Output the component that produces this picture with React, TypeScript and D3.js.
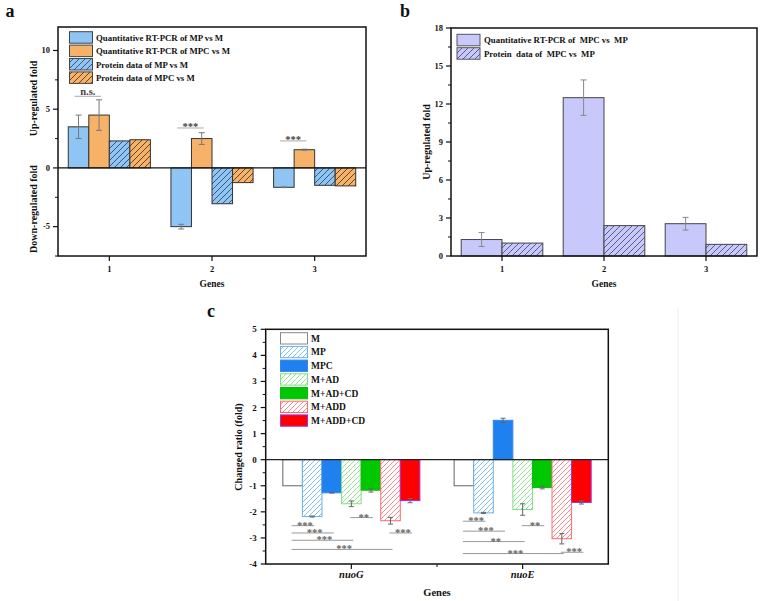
import React, { useEffect, useRef } from "react";
import * as d3 from "d3";

// panel a
const genesA = ["1", "2", "3"];
const qpcrMP = [3.5, -5.0, -1.65];
const qpcrMPErr = [1.0, 0.2, 0.03];
const qpcrMPC = [4.5, 2.5, 1.55];
const qpcrMPCErr = [1.3, 0.5, 0.05];
const protMP = [2.3, -3.05, -1.48];
const protMPC = [2.4, -1.25, -1.53];
const sigA = [
  { gene: 0, y: 6.1, label: "n.s." },
  { gene: 1, y: 3.4, label: "***" },
  { gene: 2, y: 2.3, label: "***" },
];
const legendA = [
  "Quantitative RT-PCR of MP vs M",
  "Quantitative RT-PCR of MPC vs M",
  "Protein data of MP vs M",
  "Protein data of MPC vs M",
];

// panel b
const genesB = ["1", "2", "3"];
const qpcrMPCvsMP = [1.3, 12.5, 2.55];
const qpcrMPCvsMPErr = [0.55, 1.4, 0.5];
const protMPCvsMP = [1.02, 2.4, 0.92];
const legendB = ["Quantitative RT-PCR of  MPC vs  MP", "Protein  data of  MPC vs  MP"];

// panel c
const genesC = ["nuoG", "nuoE"];
const groupsC = ["M", "MP", "MPC", "M+AD", "M+AD+CD", "M+ADD", "M+ADD+CD"];
const valuesC = [
  [-1.0, -2.18, -1.27, -1.69, -1.17, -2.34, -1.57],
  [-1.0, -2.04, 1.51, -1.91, -1.07, -3.03, -1.64],
];
const errorsC = [
  [0, 0.02, 0.01, 0.11, 0.07, 0.13, 0.08],
  [0, 0.02, 0.08, 0.22, 0.05, 0.2, 0.06],
];
const sigC = [
  { gene: 0, from: 0, to: 1, y: -2.53, label: "***" },
  { gene: 0, from: 0, to: 2, y: -2.81, label: "***" },
  { gene: 0, from: 0, to: 3, y: -3.09, label: "***" },
  { gene: 0, from: 0, to: 5, y: -3.44, label: "***" },
  { gene: 0, from: 3, to: 4, y: -2.22, label: "**" },
  { gene: 0, from: 5, to: 6, y: -2.81, label: "***" },
  { gene: 1, from: 0, to: 1, y: -2.36, label: "***" },
  { gene: 1, from: 0, to: 2, y: -2.74, label: "***" },
  { gene: 1, from: 0, to: 3, y: -3.14, label: "**" },
  { gene: 1, from: 0, to: 5, y: -3.6, label: "***" },
  { gene: 1, from: 3, to: 4, y: -2.53, label: "**" },
  { gene: 1, from: 5, to: 6, y: -3.55, label: "***" },
];

const FONT = "Liberation Serif, DejaVu Serif, serif";

const App = () => {
  const svgRef = useRef<SVGSVGElement>(null);

  useEffect(() => {
    const svg = d3.select(svgRef.current);
    svg.selectAll("*").remove();
    const defs = svg.append("defs");

    const hatch = (id, bg, line, size = 6, w = 0.8) => {
      const p = defs
        .append("pattern")
        .attr("id", id)
        .attr("patternUnits", "userSpaceOnUse")
        .attr("width", size)
        .attr("height", size);
      p.append("rect").attr("width", size).attr("height", size).attr("fill", bg);
      p.append("path")
        .attr("d", `M-1,1 l2,-2 M0,${size} l${size},-${size} M${size - 1},${size + 1} l2,-2`)
        .attr("stroke", line)
        .attr("stroke-width", w);
    };
    hatch("hBlue", "#8ec5f5", "#2a3a55");
    hatch("hOrange", "#f7b26a", "#3a2a15");
    hatch("hLav", "#c8c8fb", "#3c3c7a");
    hatch("hCBlue", "#ffffff", "#74b8f0", 5, 0.9);
    hatch("hCGreen", "#ffffff", "#86e486", 5, 0.9);
    hatch("hCRed", "#ffffff", "#ff7b7b", 5, 0.9);

    const txt = (g, x, y, s, size, opts: any = {}) =>
      g
        .append("text")
        .attr("x", x)
        .attr("y", y)
        .style("font-family", FONT)
        .style("font-weight", opts.weight || "bold")
        .style("font-style", opts.style || "normal")
        .style("font-size", size + "px")
        .attr("fill", opts.fill || "#111")
        .attr("text-anchor", opts.anchor || "middle")
        .attr("transform", opts.rotate ? `rotate(-90,${x},${y})` : null)
        .style("white-space", "pre")
        .text(s);

    const yAxis = (g, y, x0, ticks, minor, size, gap = 8) => {
      minor.forEach((v) =>
        g.append("line").attr("x1", x0 - 3).attr("x2", x0).attr("y1", y(v)).attr("y2", y(v)).attr("stroke", "#111")
      );
      ticks.forEach((v) => {
        g.append("line").attr("x1", x0 - 5).attr("x2", x0).attr("y1", y(v)).attr("y2", y(v)).attr("stroke", "#111").attr("stroke-width", 1.2);
        txt(g, x0 - gap, y(v) + size * 0.33, String(v), size, { anchor: "end" });
      });
    };

    // ---------- panel a ----------
    {
      const g = svg.append("g");
      const x = d3.scaleLinear().domain([0.5, 3.5]).range([58, 366]);
      const y = d3.scaleLinear().domain([-7.5, 12]).range([256, 27]);
      const bw = (x(2) - x(1)) * 0.8 / 4;
      const series = [
        { v: qpcrMP, e: qpcrMPErr, fill: "#8ec5f5" },
        { v: qpcrMPC, e: qpcrMPCErr, fill: "#f7b26a" },
        { v: protMP, e: null, fill: "url(#hBlue)" },
        { v: protMPC, e: null, fill: "url(#hOrange)" },
      ];
      series.forEach((s, si) => {
        s.v.forEach((v, i) => {
          const bx = x(i + 1) - 2 * bw + si * bw;
          g.append("rect")
            .attr("x", bx)
            .attr("y", y(Math.max(0, v)))
            .attr("width", bw)
            .attr("height", Math.abs(y(v) - y(0)))
            .attr("fill", s.fill)
            .attr("stroke", "#333")
            .attr("stroke-width", 1);
          if (s.e && s.e[i] > 0) {
            const cx = bx + bw / 2;
            const e = s.e[i];
            g.append("line").attr("x1", cx).attr("x2", cx).attr("y1", y(v + e)).attr("y2", y(v - e)).attr("stroke", "#777");
            [v + e, v - e].forEach((t) =>
              g.append("line").attr("x1", cx - 3).attr("x2", cx + 3).attr("y1", y(t)).attr("y2", y(t)).attr("stroke", "#777")
            );
          }
        });
      });
      sigA.forEach((s) => {
        const c1 = x(s.gene + 1) - 1.5 * bw - 4;
        const c2 = x(s.gene + 1) - 0.5 * bw + 2;
        g.append("line").attr("x1", c1).attr("x2", c2).attr("y1", y(s.y)).attr("y2", y(s.y)).attr("stroke", "#aaa").attr("stroke-width", 1);
        txt(g, (c1 + c2) / 2, y(s.y) + (s.label === "n.s." ? -1.5 : 2.5), s.label, 10.5, { fill: "#444" });
      });
      g.append("line").attr("x1", 58).attr("x2", 366).attr("y1", y(0)).attr("y2", y(0)).attr("stroke", "#111").attr("stroke-width", 1.3);
      g.append("rect").attr("x", 58).attr("y", 27).attr("width", 308).attr("height", 229).attr("fill", "none").attr("stroke", "#111").attr("stroke-width", 1.5);
      yAxis(g, y, 58, [-5, 0, 5, 10], [-7.5, -2.5, 2.5, 7.5], 8.5);
      genesA.forEach((gname, i) => {
        g.append("line").attr("x1", x(i + 1)).attr("x2", x(i + 1)).attr("y1", 256).attr("y2", 261).attr("stroke", "#111").attr("stroke-width", 1.2);
        txt(g, x(i + 1), 272, gname, 8.5);
      });
      const fills = ["#8ec5f5", "#f7b26a", "url(#hBlue)", "url(#hOrange)"];
      legendA.forEach((l, i) => {
        const ty = 31.7 + i * 13.4;
        g.append("rect").attr("x", 69.5).attr("y", ty).attr("width", 23).attr("height", 11.5).attr("fill", fills[i]).attr("stroke", "#444");
        txt(g, 96, ty + 9, l, 8.8, { anchor: "start" });
      });
      txt(g, 37, 98.5, "Up-regulated fold", 10, { rotate: true });
      txt(g, 37, 209, "Down-regulated fold", 10, { rotate: true });
      txt(g, 212, 287, "Genes", 9.5);
      txt(g, 10, 17, "a", 18, { anchor: "middle" });
    }

    // ---------- panel b ----------
    {
      const g = svg.append("g");
      const x = d3.scaleLinear().domain([0.5, 3.5]).range([451, 757]);
      const y = d3.scaleLinear().domain([0, 18]).range([256, 28]);
      const bw = (x(2) - x(1)) * 0.8 / 2;
      const series = [
        { v: qpcrMPCvsMP, e: qpcrMPCvsMPErr, fill: "#c8c8fb" },
        { v: protMPCvsMP, e: null, fill: "url(#hLav)" },
      ];
      series.forEach((s, si) => {
        s.v.forEach((v, i) => {
          const bx = x(i + 1) - bw + si * bw;
          g.append("rect")
            .attr("x", bx)
            .attr("y", y(v))
            .attr("width", bw)
            .attr("height", y(0) - y(v))
            .attr("fill", s.fill)
            .attr("stroke", "#444")
            .attr("stroke-width", 1);
          if (s.e) {
            const cx = bx + bw / 2;
            const e = s.e[i];
            g.append("line").attr("x1", cx).attr("x2", cx).attr("y1", y(v + e)).attr("y2", y(v - e)).attr("stroke", "#888");
            [v + e, v - e].forEach((t) =>
              g.append("line").attr("x1", cx - 3).attr("x2", cx + 3).attr("y1", y(t)).attr("y2", y(t)).attr("stroke", "#888")
            );
          }
        });
      });
      g.append("rect").attr("x", 451).attr("y", 28).attr("width", 306).attr("height", 228).attr("fill", "none").attr("stroke", "#111").attr("stroke-width", 1.5);
      yAxis(g, y, 451, [0, 3, 6, 9, 12, 15, 18], [1.5, 4.5, 7.5, 10.5, 13.5, 16.5], 8.5);
      genesB.forEach((gname, i) => {
        g.append("line").attr("x1", x(i + 1)).attr("x2", x(i + 1)).attr("y1", 256).attr("y2", 261).attr("stroke", "#111").attr("stroke-width", 1.2);
        txt(g, x(i + 1), 272, gname, 8.5);
      });
      const fills = ["#c8c8fb", "url(#hLav)"];
      legendB.forEach((l, i) => {
        const ty = 34.3 + i * 13.4;
        g.append("rect").attr("x", 457).attr("y", ty).attr("width", 23).attr("height", 11.5).attr("fill", fills[i]).attr("stroke", "#555");
        txt(g, 484, ty + 9, l, 8.8, { anchor: "start" });
      });
      txt(g, 430, 142, "Up-regulated fold", 10, { rotate: true });
      txt(g, 604, 287, "Genes", 9.5);
      txt(g, 405, 17, "b", 18);
    }

    // ---------- panel c ----------
    {
      const g = svg.append("g");
      g.append("line").attr("x1", 678).attr("x2", 678).attr("y1", 308).attr("y2", 601).attr("stroke", "#eeeeee");
      const L = 265.7, R = 608.3, T = 329.3, B = 564;
      const x = d3.scaleLinear().domain([0.5, 2.5]).range([L, R]);
      const y = d3.scaleLinear().domain([-4, 5]).range([B, T]);
      const bw = (x(2) - x(1)) * 0.8 / 7;
      const fills = ["#ffffff", "url(#hCBlue)", "#1f80f0", "url(#hCGreen)", "#00c800", "url(#hCRed)", "#ff0000"];
      const strokes = ["#666", "#6ab2ee", "#3a86e8", "#7fe07f", "#10b810", "#ff6a6a", "#a030e0"];
      const cxOf = (gi, k) => x(gi + 1) - 3.5 * bw + k * bw + bw / 2;
      valuesC.forEach((vals, gi) => {
        vals.forEach((v, k) => {
          const bx = x(gi + 1) - 3.5 * bw + k * bw;
          g.append("rect")
            .attr("x", bx)
            .attr("y", y(Math.max(0, v)))
            .attr("width", bw)
            .attr("height", Math.abs(y(v) - y(0)))
            .attr("fill", fills[k])
            .attr("stroke", strokes[k])
            .attr("stroke-width", 1);
          const e = errorsC[gi][k];
          if (e > 0) {
            const cx = bx + bw / 2;
            g.append("line").attr("x1", cx).attr("x2", cx).attr("y1", y(v + e)).attr("y2", y(v - e)).attr("stroke", "#666");
            [v + e, v - e].forEach((t) =>
              g.append("line").attr("x1", cx - 2.5).attr("x2", cx + 2.5).attr("y1", y(t)).attr("y2", y(t)).attr("stroke", "#666")
            );
          }
        });
      });
      sigC.forEach((s) => {
        const c1 = cxOf(s.gene, s.from) - 1;
        const c2 = cxOf(s.gene, s.to) + 2;
        g.append("line").attr("x1", c1).attr("x2", c2).attr("y1", y(s.y)).attr("y2", y(s.y)).attr("stroke", "#999").attr("stroke-width", 1);
        txt(g, (c1 + c2) / 2 + 2, y(s.y) + 3, s.label, 10.5, { fill: "#666" });
      });
      g.append("line").attr("x1", L).attr("x2", R).attr("y1", y(0)).attr("y2", y(0)).attr("stroke", "#222").attr("stroke-width", 1.2);
      g.append("rect").attr("x", L).attr("y", T).attr("width", R - L).attr("height", B - T).attr("fill", "none").attr("stroke", "#111").attr("stroke-width", 1.5);
      yAxis(g, y, L, d3.range(-4, 6), d3.range(-3.5, 5, 1), 9, 9);
      genesC.forEach((gname, i) => {
        g.append("line").attr("x1", x(i + 1)).attr("x2", x(i + 1)).attr("y1", B).attr("y2", B + 5).attr("stroke", "#111").attr("stroke-width", 1.2);
        txt(g, x(i + 1), 578, gname, 10.5, { style: "italic" });
      });
      g.append("line").attr("x1", x(1.5)).attr("x2", x(1.5)).attr("y1", B).attr("y2", B + 3).attr("stroke", "#111");
      groupsC.forEach((l, i) => {
        const ty = 332.7 + i * 13.7;
        g.append("rect").attr("x", 280.5).attr("y", ty).attr("width", 27).attr("height", 11.3).attr("fill", fills[i]).attr("stroke", i === 0 ? "#888" : strokes[i]);
        txt(g, 311, ty + 9, l, 9.5, { anchor: "start" });
      });
      txt(g, 242, 447, "Changed ratio (fold)", 10, { rotate: true });
      txt(g, 437, 596, "Genes", 10.5);
      txt(g, 211, 317, "c", 18);
    }
  }, []);

  return (
    <svg
      ref={svgRef}
      width={760}
      height={601}
      style={{ position: "absolute", left: 0, top: 0, background: "#fff" }}
    />
  );
};

export default App;
